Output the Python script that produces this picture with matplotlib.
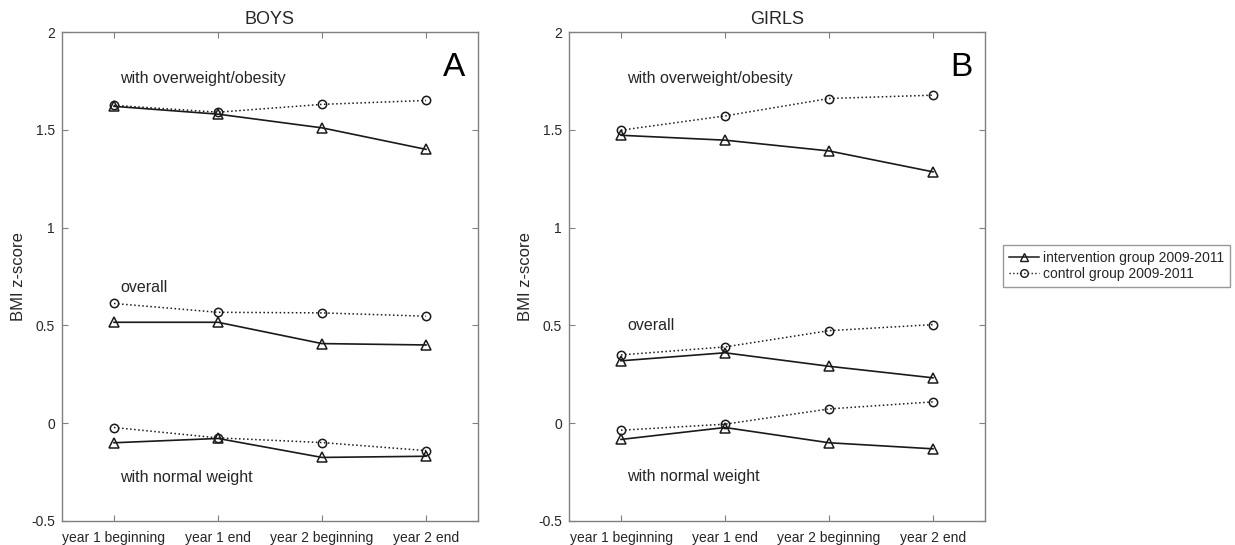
import matplotlib
matplotlib.use("Agg")
import matplotlib.pyplot as plt
from matplotlib.lines import Line2D

plt.rcParams['font.family'] = ['Liberation Sans', 'DejaVu Sans']

timepoints = ["year 1 beginning", "year 1 end", "year 2 beginning", "year 2 end"]

# boys
boys_over_int = [1.62, 1.58, 1.51, 1.40]
boys_over_ctl = [1.625, 1.59, 1.63, 1.65]
boys_all_int = [0.516, 0.516, 0.407, 0.40]
boys_all_ctl = [0.612, 0.567, 0.564, 0.547]
boys_norm_int = [-0.10, -0.078, -0.175, -0.169]
boys_norm_ctl = [-0.022, -0.075, -0.099, -0.14]

# girls
girls_over_int = [1.472, 1.447, 1.392, 1.285]
girls_over_ctl = [1.498, 1.571, 1.66, 1.677]
girls_all_int = [0.319, 0.36, 0.291, 0.232]
girls_all_ctl = [0.349, 0.39, 0.473, 0.504]
girls_norm_int = [-0.083, -0.022, -0.10, -0.131]
girls_norm_ctl = [-0.036, -0.005, 0.073, 0.109]

yticks = [-0.5, 0, 0.5, 1, 1.5, 2]
yticklabels = ["-0.5", "0", "0.5", "1", "1.5", "2"]

LINE = '#1a1a1a'
SPINE = '#808080'
TXT = '#262626'


def draw_panel(ax, title, letter, series, labels_y):
    x = [1, 2, 3, 4]
    for s_int, s_ctl in series:
        ax.plot(x, s_ctl, linestyle=':', color=LINE, linewidth=1.1,
                marker='o', markersize=6, markerfacecolor='none',
                markeredgecolor=LINE, markeredgewidth=1.1)
        ax.plot(x, s_int, linestyle='-', color=LINE, linewidth=1.2,
                marker='^', markersize=6.5, markerfacecolor='none',
                markeredgecolor=LINE, markeredgewidth=1.1)
    ax.set_xlim(0.5, 4.5)
    ax.set_ylim(-0.5, 2)
    ax.set_xticks(x)
    ax.set_xticklabels(timepoints, fontsize=10, color=TXT)
    ax.set_yticks(yticks)
    ax.set_yticklabels(yticklabels, fontsize=10, color=TXT)
    ax.tick_params(direction='in', length=4, width=0.8, color=SPINE,
                   top=True, right=True)
    ax.tick_params(axis='x', pad=7)
    ax.tick_params(axis='y', pad=5)
    for sp in ax.spines.values():
        sp.set_color(SPINE)
        sp.set_linewidth(1.0)
    ax.set_title(title, fontsize=13, color=TXT, pad=6)
    ax.set_ylabel("BMI z-score", fontsize=12, color=TXT, labelpad=4)
    ax.text(4.27, 1.82, letter, fontsize=24, ha='center', va='center', color='black')
    names = ["with overweight/obesity", "overall", "with normal weight"]
    for name, yy in zip(names, labels_y):
        ax.text(1.06, yy, name, fontsize=11.5, ha='left', va='center', color=TXT)


fig = plt.figure(figsize=(12.35, 5.45), dpi=100)
axA = fig.add_axes([62 / 1235, 24 / 545, 416 / 1235, 489 / 545])
axB = fig.add_axes([569 / 1235, 24 / 545, 416 / 1235, 489 / 545])

draw_panel(axA, "BOYS", "A",
           [(boys_over_int, boys_over_ctl), (boys_all_int, boys_all_ctl),
            (boys_norm_int, boys_norm_ctl)],
           [1.76, 0.695, -0.28])
draw_panel(axB, "GIRLS", "B",
           [(girls_over_int, girls_over_ctl), (girls_all_int, girls_all_ctl),
            (girls_norm_int, girls_norm_ctl)],
           [1.76, 0.50, -0.27])

handles = [
    Line2D([], [], linestyle='-', color=LINE, linewidth=1.1, marker='^',
           markersize=6, markerfacecolor='none', markeredgecolor=LINE),
    Line2D([], [], linestyle=':', color=LINE, linewidth=1.0, marker='o',
           markersize=5.5, markerfacecolor='none', markeredgecolor=LINE),
]
leg = fig.legend(handles, ["intervention group 2009-2011", "control group 2009-2011"],
                 loc='upper left', bbox_to_anchor=(1003 / 1235, 300 / 545),
                 fontsize=10, frameon=True, fancybox=False, handlelength=2.2,
                 handletextpad=0.3, borderpad=0.4, labelspacing=0.2,
                 borderaxespad=0)
leg.get_frame().set_edgecolor(SPINE)
leg.get_frame().set_linewidth(1.0)
for t in leg.get_texts():
    t.set_color(TXT)

fig.savefig("out.png", dpi=100)
